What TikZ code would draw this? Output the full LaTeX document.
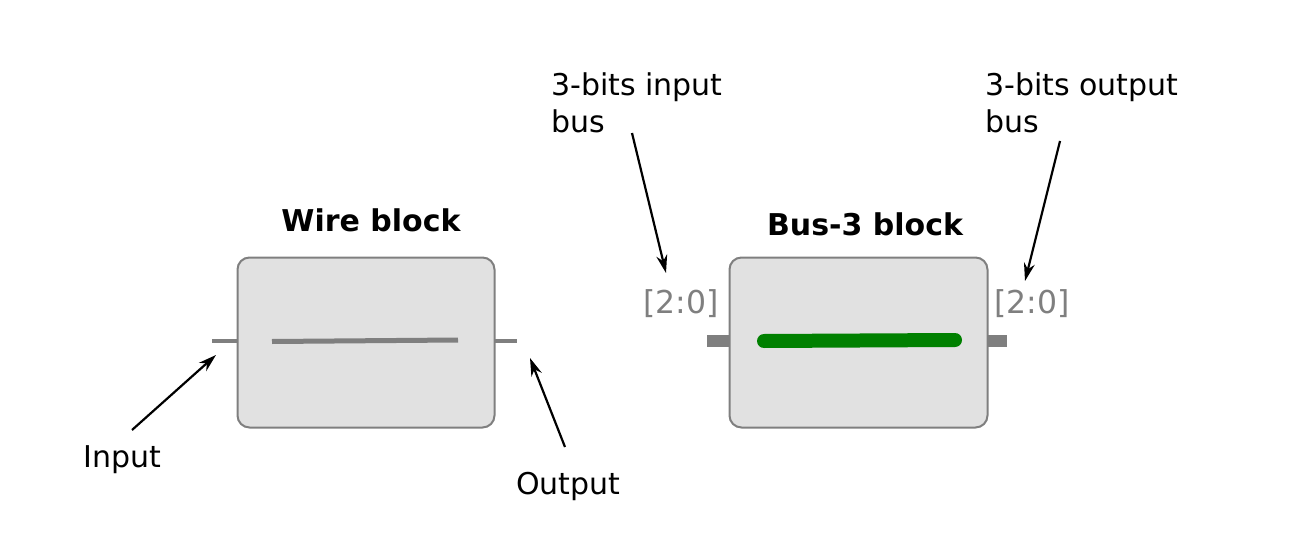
\documentclass[tikz,border=0pt]{standalone}
\usepackage{fontspec}
\setmainfont{DejaVu Sans}
\usetikzlibrary{arrows.meta}
\definecolor{boxfill}{HTML}{E1E1E1}
\definecolor{boxline}{HTML}{7F7F7F}
\definecolor{busgreen}{HTML}{008000}
\tikzset{
  blockbox/.style={draw=boxline, fill=boxfill, line width=2pt, rounded corners=12pt},
  lbl/.style={inner sep=0pt, font=\fontsize{30}{37}\selectfont},
  blocktitle/.style={inner sep=0pt, font=\fontsize{30}{37}\selectfont\bfseries},
  rangelbl/.style={inner sep=0pt, text=boxline, font=\fontsize{31.5}{37}\selectfont},
  pointerarrow/.style={line width=2.2pt, -{Stealth[length=18pt,width=11pt]}},
  wirestub/.style={draw=boxline, line width=4.5pt},
  busstub/.style={draw=boxline, line width=12pt},
}
\begin{document}
\begin{tikzpicture}[x=1pt,y=-1pt]
\useasboundingbox (0,0) rectangle (1310,551);
% Wire block
\draw[wirestub] (212,341) coordinate (wl1) -- (237,341) coordinate (wl2);
\draw[wirestub] (494,341) coordinate (wr1) -- (517,341) coordinate (wr2);
\node[blockbox, minimum width=257pt, minimum height=170pt, anchor=north west] (wire) at (236.5,256.5) {};
\draw[boxline, line width=5pt] (272,341.5) coordinate (wa) -- (458,340) coordinate (wb);
\node[blocktitle] (wiretitle) at (371,220) {Wire block};
% Bus block
\draw[busstub] (707,341) coordinate (bl1) -- (729,341) coordinate (bl2);
\draw[busstub] (987,341) coordinate (br1) -- (1007,341) coordinate (br2);
\node[blockbox, minimum width=258pt, minimum height=170pt, anchor=north west] (bus) at (728.5,256.5) {};
\draw[busgreen, line width=14pt, line cap=round] (764,341) coordinate (ba) -- (955,340) coordinate (bb);
\node[blocktitle] (bustitle) at (865,224) {Bus-3 block};
\node[rangelbl] (rin) at (681,304) {[2:0]};
\node[rangelbl] (rout) at (1032,304) {[2:0]};
% labels
\node[lbl, anchor=base west] (inlbl) at (83,467) {Input};
\node[lbl, anchor=base west] (outlbl) at (516,494) {Output};
\node[lbl, anchor=north west, align=left] (inbus) at (551,73) {3-bits input\\bus};
\node[lbl, anchor=north west, align=left] (outbus) at (985,73) {3-bits output\\bus};
% pointers
\coordinate (p1s) at (132,430); \coordinate (p1e) at (216,355);
\coordinate (p2s) at (565,447); \coordinate (p2e) at (530,358);
\coordinate (p3s) at (632,133); \coordinate (p3e) at (666,273);
\coordinate (p4s) at (1060,141); \coordinate (p4e) at (1025,281);
\draw[pointerarrow] (p1s) -- (p1e);
\draw[pointerarrow] (p2s) -- (p2e);
\draw[pointerarrow] (p3s) -- (p3e);
\draw[pointerarrow] (p4s) -- (p4e);
\end{tikzpicture}
\end{document}
